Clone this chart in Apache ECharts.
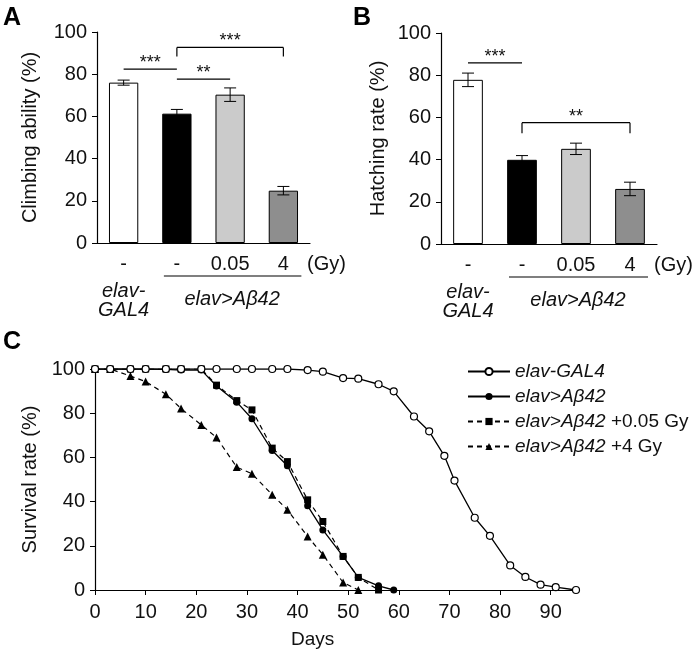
<!DOCTYPE html>
<html><head><meta charset="utf-8">
<script src="https://cdn.jsdelivr.net/npm/echarts@6/dist/echarts.min.js"></script>
<style>html,body{margin:0;padding:0;background:#fff}#c{width:700px;height:654px}</style>
</head><body><div id="c"></div>
<script>
// ---- data ----
const doseLabels = ['-', '-', '0.05', '4'];
const climbMean = [76.0, 61.3, 70.3, 24.8];
const climbErr  = [1.2, 2.0, 3.2, 2.0];
const hatchMean = [77.8, 39.9, 45.1, 26.1];
const hatchErr  = [3.2, 2.0, 2.7, 3.2];
const barColors = ['#ffffff', '#000000', '#cbcbcb', '#8e8e8e'];
const yTicks = [0, 20, 40, 60, 80, 100];

const daysGal4  = [0,3,7,10,14,17,21,24,28,31,35,38,42,45,49,52,56,59,63,66,69,71,75,78,82,85,88,91,95];
const survGal4  = [100,100,100,100,100,100,100,100,100,100,100,100,99.5,98.8,95.9,95.6,93.1,89.9,78.5,71.8,60.7,49.5,32.7,24.5,11.1,5.9,2.4,1.3,0];
const daysAb    = [0,3,7,10,14,17,21,24,28,31,35,38,42,45,49,52,56,59];
const survAb    = [100,100,100,100,99.8,99.5,99.5,92.3,85.0,77.5,63.1,56.2,38.1,27.2,15.2,5.7,1.9,0];
const daysLow   = [0,3,7,10,14,17,21,24,28,31,35,38,42,45,49,52,56];
const survLow   = [100,100,100,100,100,100,100,92.7,85.7,81.5,64.2,58.1,40.8,31.0,15.2,5.7,0];
const daysHigh  = [0,3,7,10,14,17,21,24,28,31,35,38,42,45,49,52];
const survHigh  = [100,100,96.8,94.3,88.6,82.1,74.7,69.0,55.6,52.6,43.1,36.3,24.2,16.0,3.4,0];

// significance annotations: [fromCat, toCat, yValue, label, bracketDrop]
const sigA = [[0, 1, 82.4, '***', 0], [1, 2, 77.7, '**', 0], [1, 3, 92.7, '***', 4.3]];
const sigB = [[0, 1, 85.8, '***', 0], [1, 3, 57.5, '**', 5.0]];

// ---- chart ----
const FONT = '"Liberation Sans", Arial, sans-serif';
const TXT = '#111';
const TICKFS = 20;
const chart = echarts.init(document.getElementById('c'));

function zip(a, b) { return a.map((v, i) => [v, b[i]]); }
function errData(m, e) { return m.map((v, i) => [i, v - e[i], v + e[i]]); }
function renderErr(params, api) {
  const lo = api.coord([api.value(0), api.value(1)]);
  const hi = api.coord([api.value(0), api.value(2)]);
  const x = lo[0], w = 6;
  const st = { stroke: '#000', lineWidth: 1 };
  return { type: 'group', children: [
    { type: 'line', shape: { x1: x, y1: lo[1], x2: x, y2: hi[1] }, style: st },
    { type: 'line', shape: { x1: x - w, y1: lo[1], x2: x + w, y2: lo[1] }, style: st },
    { type: 'line', shape: { x1: x - w, y1: hi[1], x2: x + w, y2: hi[1] }, style: st }
  ]};
}
function catAxis(gi) {
  return { type: 'category', gridIndex: gi, data: doseLabels,
    axisLine: { lineStyle: { color: '#000', width: 1.2 } },
    axisTick: { length: 5, lineStyle: { color: '#000' } },
    axisLabel: { color: TXT, fontSize: TICKFS, fontFamily: FONT, margin: 11 } };
}
function pctAxis(gi, name, gap) {
  return { type: 'value', gridIndex: gi, min: 0, max: 100, interval: 20,
    name: name, nameLocation: 'middle', nameGap: gap,
    nameTextStyle: { color: TXT, fontSize: 20, fontFamily: FONT },
    splitLine: { show: false },
    axisLine: { show: true, lineStyle: { color: '#000', width: 1.2 } },
    axisTick: { show: true, length: 5, lineStyle: { color: '#000' } },
    axisLabel: { color: TXT, fontSize: TICKFS, fontFamily: FONT, margin: 10 } };
}
function barSeries(ai, mean) {
  return { type: 'bar', xAxisIndex: ai, yAxisIndex: ai, barWidth: '55%',
    data: mean.map((v, i) => ({ value: v, itemStyle: { color: barColors[i] } })),
    itemStyle: { borderColor: '#000', borderWidth: 1 }, silent: true };
}

const italic = { fontStyle: 'italic', fontSize: 19, fontFamily: FONT, color: TXT };
const normal = { fontSize: 19, fontFamily: FONT, color: TXT };

chart.setOption({
  animation: false,
  grid: [
    { left: 97, top: 32, width: 213, height: 211 },
    { left: 441, top: 33, width: 216, height: 211 },
    { left: 95, top: 369, width: 481, height: 221 }
  ],
  xAxis: [
    catAxis(0), catAxis(1),
    { type: 'value', gridIndex: 2, min: 0, max: 95, interval: 10,
      splitLine: { show: false },
      axisLine: { lineStyle: { color: '#000', width: 1.2 } },
      axisTick: { show: true, length: 5, lineStyle: { color: '#000' } },
      axisLabel: { color: TXT, fontSize: TICKFS, fontFamily: FONT, margin: 12, showMaxLabel: false } }
  ],
  yAxis: [ pctAxis(0, 'Climbing ability (%)', 57), pctAxis(1, 'Hatching rate (%)', 53),
           pctAxis(2, 'Survival rate (%)', 53) ],
  legend: {
    orient: 'vertical', left: 462, top: 357, itemWidth: 42, itemHeight: 9, itemGap: 6,
    textStyle: { fontSize: 19, fontFamily: FONT, color: TXT, lineHeight: 19,
      rich: { i: Object.assign({ lineHeight: 19 }, italic), n: Object.assign({ lineHeight: 19 }, normal) } },
    formatter: function (name) {
      const m = name.split('|');
      return m.length > 1 ? '{i|' + m[0] + '}{n|' + m[1] + '}' : '{i|' + name + '}';
    },
    data: ['elav-GAL4', 'elav>Aβ42', 'elav>Aβ42| +0.05 Gy', 'elav>Aβ42| +4 Gy']
  },
  series: [
    barSeries(0, climbMean),
    { type: 'custom', xAxisIndex: 0, yAxisIndex: 0, renderItem: renderErr, data: errData(climbMean, climbErr), z: 5 },
    barSeries(1, hatchMean),
    { type: 'custom', xAxisIndex: 1, yAxisIndex: 1, renderItem: renderErr, data: errData(hatchMean, hatchErr), z: 5 },
    { name: 'elav-GAL4', type: 'line', xAxisIndex: 2, yAxisIndex: 2, data: zip(daysGal4, survGal4),
      symbol: 'circle', symbolSize: 7, showAllSymbol: true,
      lineStyle: { color: '#000', width: 1.3 }, itemStyle: { color: '#fff', borderColor: '#000', borderWidth: 1.2 }, z: 4 },
    { name: 'elav>Aβ42', type: 'line', xAxisIndex: 2, yAxisIndex: 2, data: zip(daysAb, survAb),
      symbol: 'circle', symbolSize: 7, showAllSymbol: true,
      lineStyle: { color: '#000', width: 1.3 }, itemStyle: { color: '#000' }, z: 3 },
    { name: 'elav>Aβ42| +0.05 Gy', type: 'line', xAxisIndex: 2, yAxisIndex: 2, data: zip(daysLow, survLow),
      symbol: 'rect', symbolSize: 7, showAllSymbol: true,
      lineStyle: { color: '#000', width: 1.2, type: [5, 4] }, itemStyle: { color: '#000' }, z: 3 },
    { name: 'elav>Aβ42| +4 Gy', type: 'line', xAxisIndex: 2, yAxisIndex: 2, data: zip(daysHigh, survHigh),
      symbol: 'triangle', symbolSize: 8, showAllSymbol: true,
      lineStyle: { color: '#000', width: 1.2, type: [5, 4] }, itemStyle: { color: '#000' }, z: 3 }
  ]
});

// ---- annotations positioned through the axes ----
function px(gi, cat, val) { return chart.convertToPixel({ xAxisIndex: gi, yAxisIndex: gi }, [cat, val]); }
const g = [];
const lineSt = { stroke: '#000', lineWidth: 1.2 };
function addSig(gi, list) {
  list.forEach(s => {
    const a = px(gi, s[0], s[2]), b = px(gi, s[1], s[2]);
    g.push({ type: 'line', shape: { x1: a[0], y1: a[1], x2: b[0], y2: b[1] }, style: lineSt });
    if (s[4] > 0) {
      const d = px(gi, s[0], s[2] - s[4])[1];
      g.push({ type: 'line', shape: { x1: a[0], y1: a[1], x2: a[0], y2: d }, style: lineSt });
      g.push({ type: 'line', shape: { x1: b[0], y1: b[1], x2: b[0], y2: d }, style: lineSt });
    }
    g.push({ type: 'text', x: (a[0] + b[0]) / 2, y: a[1] + 3,
      style: { text: s[3], font: '18px ' + FONT, fill: TXT, align: 'center', verticalAlign: 'bottom' } });
  });
}
addSig(0, sigA); addSig(1, sigB);

function addGroups(gi) {
  const base = px(gi, 0, 0);
  const c1 = px(gi, 1, 0), c3 = px(gi, 3, 0);
  const half = (c3[0] - c1[0]) / 2;
  const right = c3[0] + (c3[0] - c1[0]) / 4;
  g.push({ type: 'text', x: right - 3, y: base[1] + 21,
    style: { text: '(Gy)', font: TICKFS + 'px ' + FONT, fill: TXT, align: 'left', verticalAlign: 'middle' } });
  g.push({ type: 'line', shape: { x1: c1[0] - 13, y1: base[1] + 33, x2: c3[0] + 18, y2: base[1] + 33 }, style: lineSt });
  g.push({ type: 'text', x: base[0], y: base[1] + 48,
    style: { text: 'elav-', font: 'italic 20px ' + FONT, fill: TXT, align: 'center', verticalAlign: 'middle' } });
  g.push({ type: 'text', x: base[0], y: base[1] + 67,
    style: { text: 'GAL4', font: 'italic 20px ' + FONT, fill: TXT, align: 'center', verticalAlign: 'middle' } });
  g.push({ type: 'text', x: c1[0] + half + 2, y: base[1] + 56,
    style: { text: 'elav>Aβ42', font: 'italic 20px ' + FONT, fill: TXT, align: 'center', verticalAlign: 'middle' } });
}
addGroups(0); addGroups(1);

// panel letters and x-axis title of C
g.push({ type: 'text', x: 3, y: 6, style: { text: 'A', font: 'bold 25px ' + FONT, fill: '#000' } });
g.push({ type: 'text', x: 353, y: 6, style: { text: 'B', font: 'bold 25px ' + FONT, fill: '#000' } });
g.push({ type: 'text', x: 3, y: 330, style: { text: 'C', font: 'bold 25px ' + FONT, fill: '#000' } });
const dpos = chart.convertToPixel({ xAxisIndex: 2, yAxisIndex: 2 }, [43, 0]);
g.push({ type: 'text', x: dpos[0], y: 640, style: { text: 'Days', font: '19px ' + FONT, fill: TXT, align: 'center', verticalAlign: 'middle' } });

chart.setOption({ graphic: g });
</script>
</body></html>
